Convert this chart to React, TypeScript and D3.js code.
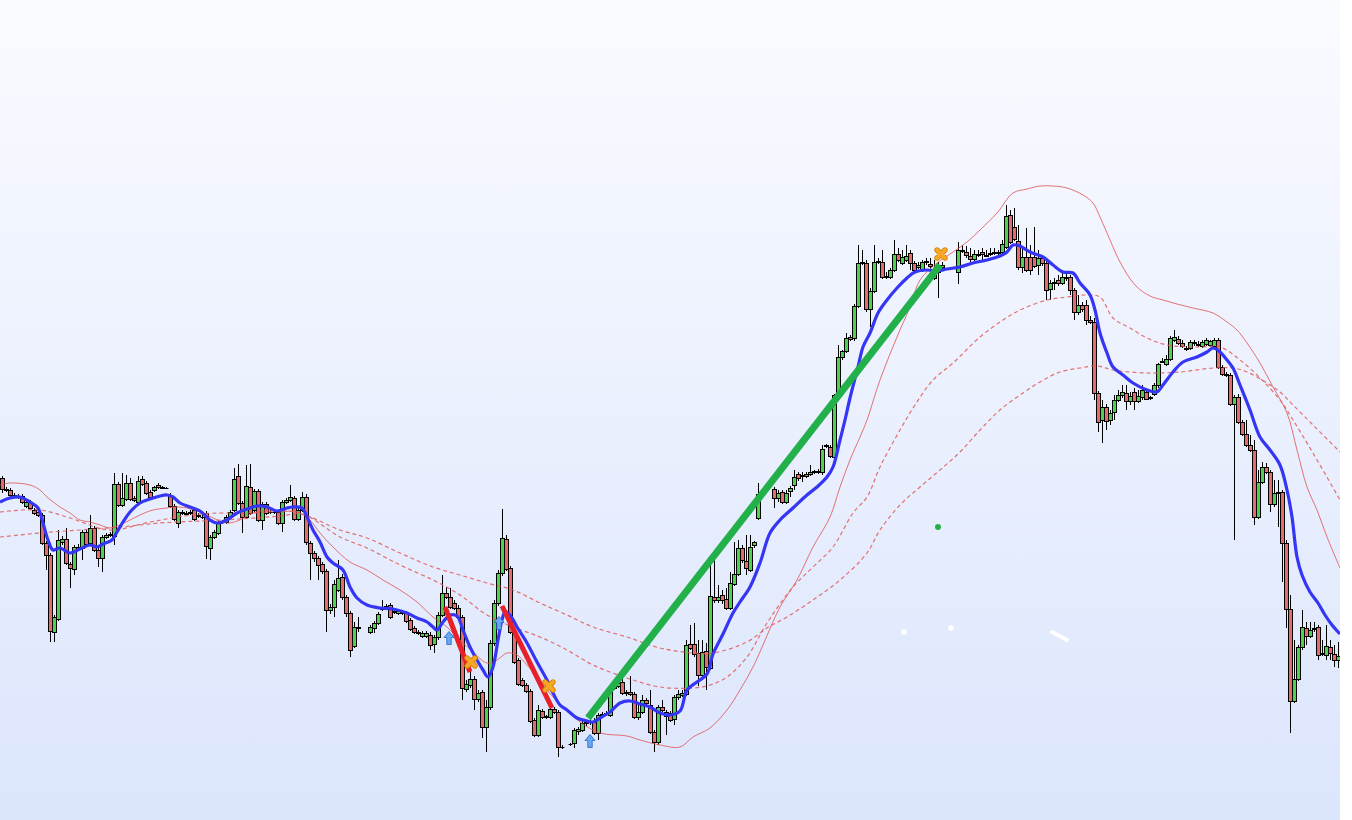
import * as d3 from "d3";

// OHLC per bar (index 0..334), null = no bar
const opens: (number | null)[] = [
  1342, 1331, 1330, 1325, 1324, 1324, 1314, 1318, 1310, 1308,
  1305, 1277, 1265, 1188, 1201, 1278, 1281, 1256, 1251, 1273,
  1272, 1288, 1277, 1292, 1270, 1262, 1283, 1285, 1284, 1336,
  1315, 1321, 1337, 1322, 1318, 1341, 1337, 1328, 1330, 1335,
  1333, 1332, 1325, 1314, 1297, 1308, 1307, 1308, 1310, 1305,
  1303, 1307, 1272, 1283, 1287, 1298, 1298, 1303, 1310, 1344,
  1317, 1303, 1333, 1310, 1329, 1300, 1316, 1308, 1308, 1308,
  1297, 1318, 1320, 1322, 1301, 1310, 1323, 1277, 1267, 1262,
  1256, 1249, 1210, 1213, 1230, 1243, 1223, 1207, 1174, 1192,
  null, null, 1188, 1192, 1197, 1211, 1214, 1215, 1209, 1207,
  1208, 1207, 1200, 1192, 1187, 1184, 1184, 1185, 1176, 1183,
  1205, 1227, 1223, 1217, 1212, 1203, 1131, 1135, 1141, 1121,
  1128, 1093, 1113, 1177, 1217, 1247, 1281, 1252, 1188, 1160,
  1140, 1135, 1129, 1100, 1085, 1109, 1103, 1103, 1111, 1108,
  1073, null, 1076, 1077, 1089, 1090, 1097, 1098, 1098, 1087,
  1105, 1106, 1105, 1132, 1134, 1138, 1127, 1128, 1126, 1103,
  1108, 1120, 1115, 1088, 1078, 1113, 1104, 1107, 1101, 1123,
  1125, 1126, 1176, 1176, 1167, 1145, 1169, 1152, 1223, 1220,
  1225, 1221, 1212, 1236, 1246, 1272, 1259, 1250, 1275, 1302,
  null, null, null, 1331, 1322, 1328, 1318, 1329, 1335, 1346,
  1344, 1346, 1346, 1348, 1349, 1348, 1374, 1373, 1363, 1425,
  1463, 1469, 1483, 1482, 1514, 1557, 1557, 1511, 1529, 1558,
  1558, 1543, 1543, 1550, 1566, 1557, 1560, 1567, 1557, 1553,
  1550, 1558, 1556, 1551, 1552, 1553, null, null, null, 1548,
  1569, 1568, 1564, 1561, 1565, 1568, 1565, 1566, 1568, 1567,
  1568, 1573, 1605, 1593, 1579, 1553, 1563, 1563, 1563, 1555,
  1562, 1557, 1531, 1537, 1540, 1537, 1543, 1543, 1530, 1508,
  1515, 1515, 1500, 1498, 1427, 1400, 1413, 1400, 1408, 1420,
  1425, 1427, 1419, 1428, 1419, 1423, 1428, 1422, 1426, 1435,
  1458, 1456, 1461, 1480, 1481, 1477, 1471, 1472, 1478, 1475,
  1474, 1476, 1475, 1474, 1480, 1453, 1446, 1445, 1416, 1423,
  1398, 1386, 1375, 1370, 1303, 1338, 1353, 1348, 1316, 1327,
  1328, 1277, 1211, 1119, 1141, 1173, 1192, 1184, 1192, 1193,
  1166, 1165, 1173, 1166, 1160,
];

const highs: (number | null)[] = [
  1344, 1333, 1332, 1327, 1326, 1326, 1320, 1320, 1312, 1310,
  1307, 1279, 1267, 1205, 1290, 1284, 1292, 1258, 1275, 1276,
  1290, 1290, 1305, 1294, 1272, 1285, 1287, 1288, 1347, 1338,
  1347, 1345, 1342, 1324, 1344, 1344, 1339, 1330, 1334, 1337,
  1334, 1333, 1327, 1316, 1310, 1310, 1309, 1310, 1312, 1307,
  1305, 1309, 1285, 1290, 1299, 1300, 1305, 1310, 1352, 1356,
  1319, 1355, 1356, 1331, 1331, 1318, 1318, 1310, 1310, 1310,
  1320, 1322, 1335, 1324, 1312, 1328, 1326, 1279, 1269, 1264,
  1258, 1251, 1216, 1240, 1260, 1246, 1225, 1209, 1198, 1203,
  null, null, 1195, 1199, 1208, 1220, 1216, 1217, 1211, 1211,
  1210, 1209, 1202, 1194, 1190, 1189, 1189, 1188, 1185, 1208,
  1245, 1233, 1232, 1220, 1215, 1205, 1140, 1150, 1144, 1130,
  1130, 1120, 1180, 1220, 1250, 1311, 1285, 1254, 1190, 1162,
  1142, 1137, 1131, 1102, 1115, 1111, 1105, 1115, 1113, 1110,
  1075, null, 1077, 1092, 1093, 1100, 1100, 1101, 1102, 1107,
  1108, 1109, 1134, 1135, 1140, 1150, 1130, 1144, 1128, 1116,
  1125, 1122, 1130, 1090, 1115, 1120, 1110, 1109, 1125, 1130,
  1130, 1180, 1195, 1197, 1180, 1180, 1177, 1255, 1260, 1235,
  1230, 1232, 1248, 1278, 1280, 1275, 1285, 1285, 1279, 1337,
  null, null, null, 1333, 1330, 1330, 1330, 1334, 1350, 1348,
  1348, 1348, 1355, 1350, 1351, 1375, 1376, 1375, 1426, 1475,
  1470, 1487, 1485, 1516, 1575, 1570, 1560, 1532, 1575, 1562,
  1570, 1548, 1552, 1580, 1572, 1570, 1575, 1570, 1559, 1558,
  1560, 1562, 1562, 1560, 1558, 1558, null, null, null, 1578,
  1575, 1574, 1572, 1570, 1570, 1572, 1570, 1572, 1572, 1570,
  1580, 1615, 1610, 1612, 1595, 1572, 1592, 1575, 1593, 1570,
  1565, 1562, 1540, 1542, 1545, 1550, 1546, 1545, 1532, 1525,
  1518, 1520, 1504, 1502, 1429, 1420, 1416, 1410, 1425, 1430,
  1435, 1435, 1428, 1432, 1430, 1435, 1432, 1424, 1437, 1457,
  1462, 1465, 1484, 1490, 1484, 1480, 1474, 1480, 1480, 1479,
  1480, 1482, 1480, 1482, 1482, 1455, 1448, 1447, 1425, 1426,
  1400, 1400, 1385, 1380, 1350, 1358, 1357, 1350, 1340, 1340,
  1330, 1280, 1225, 1180, 1175, 1210, 1198, 1198, 1198, 1195,
  1180, 1195, 1180, 1175, 1178,
];

const lows: (number | null)[] = [
  1327, 1328, 1323, 1322, 1321, 1316, 1312, 1310, 1305, 1303,
  1275, 1250, 1178, 1178, 1199, 1275, 1255, 1232, 1245, 1269,
  1260, 1274, 1275, 1268, 1253, 1248, 1281, 1283, 1275, 1313,
  1313, 1319, 1319, 1318, 1316, 1334, 1325, 1321, 1328, 1331,
  1331, 1331, 1312, 1299, 1292, 1305, 1305, 1305, 1299, 1302,
  1301, 1261, 1260, 1281, 1285, 1296, 1296, 1301, 1308, 1315,
  1287, 1301, 1305, 1308, 1298, 1290, 1305, 1306, 1306, 1295,
  1288, 1316, 1318, 1299, 1299, 1308, 1275, 1240, 1258, 1240,
  1246, 1188, 1206, 1203, 1228, 1220, 1203, 1163, 1172, 1188,
  null, null, 1186, 1187, 1195, 1209, 1210, 1201, 1206, 1205,
  1205, 1197, 1189, 1186, 1185, 1182, 1182, 1170, 1167, 1180,
  1203, 1221, 1211, 1210, 1200, 1120, 1128, 1132, 1110, 1118,
  1082, 1068, 1110, 1174, 1214, 1244, 1249, 1186, 1156, 1134,
  1133, 1127, 1097, 1083, 1083, 1101, 1101, 1101, 1106, 1063,
  1071, null, 1074, 1072, 1085, 1088, 1094, 1095, 1085, 1080,
  1102, 1104, 1103, 1130, 1132, 1125, 1124, 1124, 1101, 1100,
  1106, 1114, 1086, 1068, 1075, 1108, 1085, 1098, 1095, 1120,
  1123, 1124, 1170, 1163, 1134, 1143, 1130, 1150, 1217, 1217,
  1216, 1210, 1210, 1234, 1244, 1257, 1245, 1248, 1272, 1300,
  null, null, null, 1312, 1318, 1316, 1316, 1323, 1330, 1339,
  1338, 1342, 1344, 1346, 1346, 1345, 1372, 1362, 1361, 1423,
  1460, 1467, 1479, 1479, 1512, 1555, 1508, 1493, 1527, 1556,
  1541, 1541, 1541, 1548, 1558, 1555, 1558, 1550, 1548, 1551,
  1548, 1555, 1550, 1540, 1522, 1550, null, null, null, 1536,
  1567, 1562, 1558, 1559, 1563, 1558, 1563, 1564, 1565, 1565,
  1566, 1571, 1576, 1579, 1550, 1547, 1548, 1545, 1552, 1545,
  1554, 1520, 1520, 1530, 1534, 1535, 1539, 1525, 1500, 1505,
  1508, 1495, 1496, 1420, 1388, 1377, 1390, 1395, 1400, 1418,
  1422, 1410, 1415, 1410, 1417, 1420, 1420, 1420, 1424, 1432,
  1457, 1454, 1459, 1478, 1475, 1472, 1469, 1470, 1474, 1473,
  1472, 1474, 1473, 1472, 1451, 1444, 1443, 1414, 1280, 1396,
  1384, 1373, 1368, 1295, 1301, 1336, 1346, 1308, 1313, 1293,
  1238, 1192, 1087, 1117, 1139, 1170, 1175, 1182, 1188, 1160,
  1164, 1160, 1160, 1153, 1152,
];

const closes: (number | null)[] = [
  1331, 1330, 1325, 1324, 1323, 1318, 1318, 1312, 1307, 1305,
  1277, 1265, 1189, 1203, 1280, 1281, 1257, 1252, 1273, 1271,
  1288, 1276, 1292, 1270, 1262, 1283, 1285, 1286, 1336, 1315,
  1322, 1337, 1321, 1320, 1339, 1336, 1327, 1323, 1333, 1333,
  1332, 1332, 1314, 1301, 1308, 1307, 1306, 1307, 1301, 1304,
  1303, 1274, 1283, 1288, 1297, 1299, 1303, 1308, 1341, 1317,
  1303, 1334, 1307, 1329, 1300, 1316, 1307, 1308, 1308, 1297,
  1318, 1320, 1323, 1301, 1310, 1323, 1278, 1267, 1262, 1255,
  1249, 1210, 1213, 1236, 1242, 1223, 1207, 1170, 1193, 1193,
  null, null, 1193, 1197, 1206, 1212, 1212, 1203, 1208, 1209,
  1207, 1199, 1191, 1188, 1188, 1187, 1187, 1175, 1183, 1205,
  1227, 1223, 1213, 1212, 1203, 1132, 1136, 1141, 1121, 1127,
  1093, 1113, 1177, 1217, 1247, 1282, 1251, 1188, 1158, 1136,
  1135, 1129, 1099, 1085, 1110, 1103, 1104, 1111, 1108, 1073,
  1073, null, 1076, 1090, 1091, 1097, 1098, 1099, 1087, 1105,
  1106, 1107, 1132, 1133, 1137, 1127, 1128, 1126, 1103, 1108,
  1120, 1117, 1088, 1078, 1113, 1110, 1108, 1100, 1123, 1126,
  1127, 1175, 1172, 1166, 1145, 1168, 1153, 1224, 1220, 1223,
  1220, 1212, 1237, 1246, 1272, 1260, 1252, 1273, 1278, 1326,
  null, null, null, 1322, 1327, 1318, 1327, 1332, 1343, 1342,
  1345, 1344, 1348, 1349, 1348, 1371, 1375, 1364, 1425, 1463,
  1469, 1482, 1481, 1514, 1557, 1558, 1511, 1529, 1558, 1559,
  1543, 1544, 1550, 1566, 1560, 1563, 1564, 1557, 1550, 1555,
  1558, 1559, 1554, 1542, 1548, 1555, null, null, null, 1570,
  1570, 1565, 1561, 1566, 1566, 1566, 1564, 1567, 1567, 1568,
  1576, 1604, 1578, 1581, 1553, 1563, 1550, 1550, 1554, 1562,
  1557, 1530, 1537, 1538, 1537, 1543, 1542, 1530, 1508, 1515,
  1511, 1500, 1498, 1427, 1398, 1413, 1399, 1407, 1420, 1425,
  1428, 1419, 1424, 1419, 1424, 1430, 1421, 1423, 1435, 1456,
  1459, 1461, 1482, 1483, 1477, 1474, 1472, 1478, 1477, 1476,
  1478, 1480, 1479, 1480, 1453, 1446, 1445, 1416, 1423, 1398,
  1386, 1375, 1370, 1303, 1338, 1353, 1348, 1316, 1327, 1328,
  1277, 1211, 1119, 1141, 1173, 1193, 1184, 1190, 1191, 1165,
  1167, 1174, 1167, 1160, 1164,
];

// indicator lines as [bar index, price]
const fastMa: [number, number][] = [
  [-0.5, 1318], [2, 1322], [4.5, 1323], [7, 1318], [9, 1312], [10.25, 1297], [11.5, 1280],
  [12.75, 1270], [14.5, 1272], [17, 1267], [19.5, 1271], [22, 1275], [23.75, 1273], [25.25, 1276],
  [27.5, 1280], [28.75, 1288], [30.25, 1298], [32, 1308], [34.5, 1317], [37, 1321], [39.5, 1324],
  [41.25, 1325], [42.75, 1323], [44.5, 1317], [47, 1313], [49.5, 1309], [52, 1300], [53.75, 1297],
  [56.25, 1300], [58.75, 1307], [61.25, 1311], [63.75, 1314], [66.25, 1313], [68.75, 1309],
  [71.25, 1312], [72.75, 1313], [75, 1312], [76.25, 1303], [77.75, 1290], [79.5, 1278],
  [81.25, 1263], [82.75, 1257], [85.25, 1250], [87, 1233], [88.75, 1222], [91.25, 1215],
  [94.5, 1212], [97.75, 1211], [101.25, 1207], [103.75, 1202], [106.25, 1198], [107.75, 1193],
  [108.75, 1190], [110.25, 1198], [112, 1205], [113.75, 1204], [115.25, 1190], [117, 1173],
  [118.75, 1160], [120.25, 1150], [121.5, 1143], [122.75, 1153], [124, 1180], [125, 1200],
  [125.75, 1208], [127, 1205], [128.75, 1193], [131.25, 1177], [133.75, 1158], [136.25, 1140],
  [137.75, 1127], [139.5, 1115], [141.25, 1110], [143.75, 1102], [146.25, 1099], [147.75, 1098],
  [149.5, 1102], [152, 1108], [154.5, 1117], [157, 1119], [159.5, 1116], [162, 1113],
  [164.5, 1107], [167, 1105], [169.5, 1109], [171.25, 1130], [173.75, 1138], [176.25, 1146],
  [177.75, 1166], [180.25, 1186], [182.75, 1207], [184.5, 1218], [187, 1233], [189.5, 1257],
  [192, 1287], [194.5, 1300], [197.75, 1312], [201.25, 1325], [203.75, 1333], [206.25, 1343],
  [207.75, 1353], [209.5, 1380], [210.75, 1400], [212, 1422], [214, 1453], [215.25, 1473],
  [217, 1487], [219, 1507], [221.25, 1520], [223.75, 1532], [226.25, 1542], [228.25, 1548],
  [231.25, 1550], [233.75, 1549], [236.25, 1551], [239.5, 1553], [242.75, 1557], [246.25, 1560],
  [249.5, 1564], [251.25, 1568], [252.75, 1575], [254.5, 1574], [257, 1568], [260.25, 1563],
  [262.75, 1555], [265.25, 1548], [267.75, 1547], [269.5, 1537], [272, 1525], [273.25, 1510],
  [274.5, 1487], [276.25, 1467], [277.75, 1453], [280.25, 1445], [282.75, 1437], [286.25, 1430],
  [288.75, 1428], [290.25, 1435], [292.75, 1448], [295.25, 1458], [298.75, 1463], [301.25, 1468],
  [302.75, 1472], [304.5, 1468], [306.25, 1460], [307.75, 1452], [309.5, 1435], [312, 1410],
  [314.5, 1383], [317, 1370], [319.5, 1355], [321.25, 1330], [322.5, 1303], [323.75, 1263],
  [325, 1245], [327, 1228], [329, 1217], [330.75, 1205], [332.5, 1195], [334.5, 1186],
];

const envelope: [number, number][] = [
  [-0.5, 1335], [2, 1337], [7, 1335], [9.5, 1330], [11.25, 1323], [14.5, 1313], [17, 1307],
  [19.5, 1300], [22, 1298], [24.5, 1295], [27, 1292], [29.5, 1295], [32, 1300], [34.5, 1305],
  [37.75, 1310], [41.25, 1312], [42.75, 1313], [46.25, 1312], [49.5, 1308], [52.75, 1302],
  [56.25, 1297], [59.5, 1300], [62.75, 1307], [66.25, 1310], [69.5, 1308], [72.75, 1309],
  [74.5, 1307], [77, 1300], [79.5, 1287], [82.75, 1273], [87, 1258], [91.25, 1250], [95.25, 1240],
  [99.5, 1230], [103.75, 1218], [107.75, 1203], [111.25, 1193], [114.5, 1180], [117.75, 1168],
  [121.25, 1157], [123.75, 1160], [126.25, 1167], [128.75, 1165], [131.25, 1155], [134.5, 1140],
  [137.75, 1123], [141.25, 1110], [144.5, 1098], [149.5, 1087], [156.25, 1084], [159.5, 1080],
  [164.5, 1075], [169.5, 1073], [172.75, 1083], [177, 1092], [181.25, 1110], [184.5, 1130],
  [187.75, 1153], [190.25, 1175], [194.5, 1213], [198.75, 1240], [202.75, 1273], [207, 1303],
  [209.5, 1333], [212, 1360], [214.5, 1383], [216.25, 1400], [219.5, 1440], [223.75, 1483],
  [227, 1513], [229.5, 1540], [233.75, 1557], [237.75, 1568], [241.25, 1578], [244.5, 1590],
  [248.75, 1607], [252.75, 1627], [256.25, 1631], [259.5, 1634], [262.75, 1634], [266.25, 1632],
  [270.25, 1625], [272.75, 1617], [274.5, 1603], [277, 1580], [279.5, 1558], [283.25, 1535],
  [287, 1524], [290.25, 1520], [293.75, 1516], [297.75, 1512], [302.75, 1507], [306.25, 1498],
  [308.75, 1490], [311.25, 1477], [314.5, 1457], [317.75, 1433], [321.25, 1407], [323.75, 1370],
  [326.25, 1333], [328.75, 1310], [331.25, 1283], [334.5, 1252],
];

const midMa: [number, number][] = [
  [-0.5, 1308], [9.5, 1310], [17, 1302], [27, 1290], [37, 1298], [49.5, 1306], [62, 1307],
  [74.5, 1307], [84.5, 1283], [91.25, 1272], [99.5, 1255], [107.75, 1240], [114.5, 1225],
  [121.25, 1205], [127.75, 1193], [134.5, 1183], [141.25, 1170], [147.75, 1155], [156.25, 1142],
  [164.5, 1133], [172.75, 1132], [177, 1135], [181.25, 1143], [186.25, 1163], [191.25, 1197],
  [197.75, 1233], [202.75, 1253], [207.75, 1273], [212.75, 1307], [216.25, 1323], [219.5, 1353],
  [224.5, 1390], [228.25, 1415], [232.75, 1440], [237.75, 1457], [244.5, 1483], [250.25, 1500],
  [254.5, 1510], [261.25, 1520], [266.25, 1523], [271.25, 1525], [274.5, 1523], [277.75, 1502],
  [282, 1492], [286.25, 1482], [291.25, 1475], [298.75, 1473], [304.5, 1473], [309.5, 1460],
  [314.5, 1442], [319.5, 1420], [322.75, 1400], [327.75, 1367], [334.5, 1320],
];

const slowMa: [number, number][] = [
  [-0.5, 1283], [9.5, 1287], [19.5, 1290], [29.5, 1293], [39.5, 1297], [49.5, 1299], [59.5, 1301],
  [69.5, 1304], [74.5, 1306], [84.5, 1290], [91.25, 1282], [99.5, 1267], [107.75, 1253],
  [114.5, 1245], [121.25, 1237], [127.75, 1230], [134.5, 1217], [141.25, 1205], [147.75, 1193],
  [156.25, 1183], [164.5, 1172], [172.75, 1167], [177.75, 1167], [186.25, 1178], [191.25, 1192],
  [196.25, 1203], [202.75, 1220], [209.5, 1240], [216.25, 1267], [219.5, 1290], [224.5, 1315],
  [229.5, 1333], [234.5, 1350], [239.5, 1368], [244.5, 1390], [249.5, 1410], [254.5, 1425],
  [259.5, 1438], [264.5, 1448], [269.5, 1452], [273.75, 1454], [277.75, 1450], [286.25, 1447],
  [294.5, 1448], [302.75, 1452], [307.75, 1452], [311.25, 1448], [316.25, 1437], [319.5, 1428],
  [322.75, 1415], [327.75, 1395], [334.5, 1368],
];

// trades: entry -> exit, [bar index, price]
const trades: { from: [number, number]; to: [number, number]; win: boolean }[] = [
  { from: [110.75, 1213], to: [117, 1148], win: false },
  { from: [125, 1214], to: [137.5, 1112], win: false },
  { from: [146.5, 1102], to: [234.5, 1555], win: true },
];
const entryArrows: [number, number][] = [[111.75, 1182], [124.25, 1197], [147, 1079]];
const exitCrosses: [number, number][] = [[117.25, 1158], [136.75, 1134], [234.75, 1566]];
const greenDots: [number, number][] = [[234, 1293]];
const whiteDots: [number, number][] = [[225.5, 1188], [237.25, 1192]];
const whiteDash: [number, number][] = [[262.5, 1188], [266.25, 1180]];

const W = 1352;
const H = 820;
const PLOT_RIGHT = 1340;

export default function App() {
  const x = d3.scaleLinear().domain([0, 334]).range([2, 1338]);
  const y = d3.scaleLinear().domain([1000, 1820]).range([H, 0]);

  const line = d3
    .line<[number, number]>()
    .x((d) => x(d[0]))
    .y((d) => y(d[1]))
    .curve(d3.curveCatmullRom.alpha(0.5));

  const bars = opens.map((o, i) => ({
    i,
    o,
    h: highs[i],
    l: lows[i],
    c: closes[i],
  }));

  const snap = (v: number) => Math.round(v) + 0.5;

  return (
    <div style={{ position: "absolute", left: 0, top: 0, width: W, height: H }}>
      <svg width={W} height={H} viewBox={`0 0 ${W} ${H}`} style={{ display: "block" }}>
        <defs>
          <linearGradient id="bg" x1="0" y1="0" x2="0" y2="1">
            <stop offset="0" stopColor="#fafbff" />
            <stop offset="1" stopColor="#dbe5fc" />
          </linearGradient>
          <clipPath id="plot">
            <rect x={0} y={0} width={PLOT_RIGHT} height={H} />
          </clipPath>
        </defs>
        <rect x={0} y={0} width={W} height={H} fill="#ffffff" />
        <rect x={0} y={0} width={PLOT_RIGHT} height={H} fill="url(#bg)" />

        <g clipPath="url(#plot)">
          <g className="candles">
            {bars.map((b) => {
              if (b.o == null || b.c == null || b.h == null || b.l == null) return null;
              const cx = x(b.i);
              const up = b.c >= b.o;
              const top = snap(y(Math.max(b.o, b.c)));
              const bot = snap(y(Math.min(b.o, b.c)));
              const wx = Math.round(cx) + 0.5;
              return (
                <g key={b.i}>
                  <line x1={wx} x2={wx} y1={y(b.h)} y2={y(b.l)} stroke="#000" strokeWidth={1} />
                  {bot - top >= 1 ? (
                    <rect
                      x={Math.round(cx) - 1.5}
                      y={top}
                      width={4}
                      height={bot - top}
                      fill={up ? "#4fd04f" : "#e36d6d"}
                      stroke="#000"
                      strokeWidth={1}
                    />
                  ) : (
                    <line x1={Math.round(cx) - 1.5} x2={Math.round(cx) + 2.5} y1={top} y2={top} stroke="#000" strokeWidth={1} />
                  )}
                </g>
              );
            })}
          </g>

          <path d={line(slowMa) ?? ""} fill="none" stroke="#e05a5a" strokeOpacity={0.85} strokeWidth={1.2} strokeDasharray="4,3" />
          <path d={line(midMa) ?? ""} fill="none" stroke="#e05a5a" strokeOpacity={0.85} strokeWidth={1.2} strokeDasharray="4,3" />
          <path d={line(envelope) ?? ""} fill="none" stroke="#e05a5a" strokeOpacity={0.85} strokeWidth={1} />
          <path d={line(fastMa) ?? ""} fill="none" stroke="#3535f5" strokeWidth={3.2} strokeLinejoin="round" />

          {trades.map((t, k) => (
            <line
              key={k}
              x1={x(t.from[0])}
              y1={y(t.from[1])}
              x2={x(t.to[0])}
              y2={y(t.to[1])}
              stroke={t.win ? "#22b04a" : "#e8202a"}
              strokeWidth={t.win ? 7 : 5}
            />
          ))}

          {entryArrows.map(([i, p], k) => (
            <path
              key={k}
              transform={`translate(${x(i)},${y(p)})`}
              d="M0,-6.5 L5,-0.5 L2.2,-0.5 L2.2,6.5 L-2.2,6.5 L-2.2,-0.5 L-5,-0.5 Z"
              fill="#6aa8f2"
              stroke="#2f6fd0"
              strokeWidth={0.9}
            />
          ))}

          {exitCrosses.map(([i, p], k) => (
            <g key={k} transform={`translate(${x(i)},${y(p)})`}>
              <path d="M-4,-4 L4,4 M4,-4 L-4,4" stroke="#d98400" strokeWidth={5.4} strokeLinecap="round" />
              <path d="M-4,-4 L4,4 M4,-4 L-4,4" stroke="#f8a828" strokeWidth={3.6} strokeLinecap="round" />
            </g>
          ))}

          {greenDots.map(([i, p], k) => (
            <circle key={k} cx={x(i)} cy={y(p)} r={3} fill="#22b04a" />
          ))}
          {whiteDots.map(([i, p], k) => (
            <circle key={k} cx={x(i)} cy={y(p)} r={2.8} fill="#ffffff" />
          ))}
          <line
            x1={x(whiteDash[0][0])}
            y1={y(whiteDash[0][1])}
            x2={x(whiteDash[1][0])}
            y2={y(whiteDash[1][1])}
            stroke="#ffffff"
            strokeWidth={4}
            strokeLinecap="round"
          />
        </g>
      </svg>
    </div>
  );
}
